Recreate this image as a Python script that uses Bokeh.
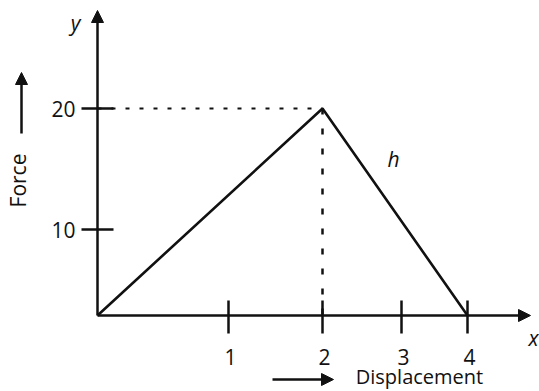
import numpy as np
from bokeh.plotting import figure
from bokeh.models import Arrow, NormalHead, Range1d
from bokeh.core.properties import value
from bokeh.embed import file_html
from bokeh.resources import INLINE

# ---- data ----
disp = [0, 2, 4]          # displacement
force = [0, 20, 0]        # force
peak_x = 2
peak_y = 20
x_ticks = [1, 2, 3, 4]
x_tick_labels = ["1", "2", "3", "4"]
y_ticks = [10, 20]
y_tick_labels = ["10", "20"]

# ---- schematic (non-uniform) axis layout of the sketch ----
X_KNOTS = [0, 1, 2, 3, 4]
X_POS = [0, 131, 225, 304, 370]
Y_KNOTS = [0, 10, 20]
Y_POS = [0, 86, 207]

def sx(v):
    return list(np.interp(v, X_KNOTS, X_POS))

def sy(v):
    return list(np.interp(v, Y_KNOTS, Y_POS))

W, H = 539, 391
p = figure(width=W, height=H, output_backend="svg", toolbar_location=None,
           x_range=Range1d(-97, 442), y_range=Range1d(-76, 315),
           min_border=0, outline_line_color=None)
p.axis.visible = False
p.grid.visible = False
p.background_fill_color = "white"
p.border_fill_color = "white"

FONT = value("Open Sans")
BLACK = "#111111"
FS = "21px"

# dotted guides
p.line(sx([0, peak_x]), sy([peak_y, peak_y]), line_color=BLACK, line_width=2,
       line_dash="4 10")
p.line(sx([peak_x, peak_x]), sy([peak_y, 0]), line_color=BLACK, line_width=2.5,
       line_dash="6 14")

# main curve
p.line(sx(disp), sy(force), line_color=BLACK, line_width=2.6)

# axes with arrows
p.add_layout(Arrow(x_start=0, y_start=0, x_end=433, y_end=0, line_width=2.5,
                   line_color=BLACK,
                   end=NormalHead(size=12, fill_color=BLACK, line_color=BLACK)))
p.add_layout(Arrow(x_start=0, y_start=0, x_end=0, y_end=305, line_width=2.5,
                   line_color=BLACK,
                   end=NormalHead(size=12, fill_color=BLACK, line_color=BLACK)))

# ticks
xt = sx(x_ticks)
p.segment(x0=xt, y0=[15] * len(xt), x1=xt, y1=[-18] * len(xt),
          line_color=BLACK, line_width=2.5)
yt = sy(y_ticks)
p.segment(x0=[-16] * len(yt), y0=yt, x1=[16] * len(yt), y1=yt,
          line_color=BLACK, line_width=2.5)

# tick labels
p.text(x=xt, y=[-41] * len(xt), text=x_tick_labels, text_font=FONT,
       text_font_size=FS, text_align="center", text_baseline="middle",
       text_color=BLACK, x_offset=2)
p.text(x=[-22] * len(yt), y=yt, text=y_tick_labels, text_font=FONT,
       text_font_size=FS, text_align="right", text_baseline="middle",
       text_color=BLACK)

# axis names
p.text(x=[-22], y=[293], text=["y"], text_font=FONT, text_font_size=FS,
       text_font_style="italic", text_align="center", text_baseline="middle",
       text_color=BLACK)
p.text(x=[436], y=[-22], text=["x"], text_font=FONT, text_font_size=FS,
       text_font_style="italic", text_align="center", text_baseline="middle",
       text_color=BLACK)
p.text(x=[296], y=[157], text=["h"], text_font=FONT, text_font_size=FS,
       text_font_style="italic", text_align="center", text_baseline="middle",
       text_color=BLACK)

# quantity labels with arrows
p.text(x=[-80], y=[135], text=["Force"], angle=np.pi / 2, text_font=FONT,
       text_font_size=FS, text_align="center", text_baseline="middle",
       text_color=BLACK)
p.add_layout(Arrow(x_start=-76, y_start=182, x_end=-76, y_end=243,
                   line_width=2.5, line_color=BLACK,
                   end=NormalHead(size=12, fill_color=BLACK, line_color=BLACK)))
p.text(x=[322], y=[-61], text=["Displacement"], text_font=FONT,
       text_font_size="20px", text_align="center", text_baseline="middle",
       text_color=BLACK)
p.add_layout(Arrow(x_start=175, y_start=-64, x_end=236, y_end=-64,
                   line_width=2.5, line_color=BLACK,
                   end=NormalHead(size=12, fill_color=BLACK, line_color=BLACK)))

open("out.html", "w").write(file_html(p, INLINE))
